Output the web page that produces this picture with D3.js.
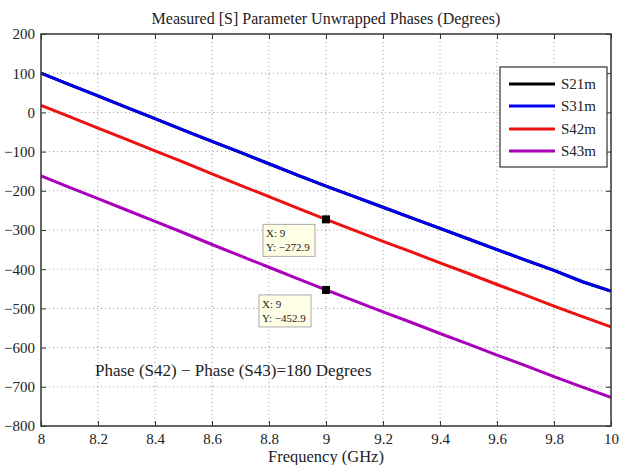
<!DOCTYPE html>
<html><head><meta charset="utf-8">
<script src="https://cdn.jsdelivr.net/npm/d3@7"></script>
<style>body{margin:0;background:#fff;} text{font-family:"Liberation Serif","Times New Roman",serif;fill:#222;}</style>
</head><body><svg id="c" width="623" height="465"></svg>
<script>
const freq = [8.0,8.1,8.2,8.3,8.4,8.5,8.6,8.7,8.8,8.9,9.0,9.1,9.2,9.3,9.4,9.5,9.6,9.7,9.8,9.9,10.0];
const s31 = [100,71,42,13,-16,-45,-74,-102,-131,-160,-188,-215,-242,-269,-296,-323,-350,-377,-403,-432,-456];
const s21 = s31.slice();
const s42 = [18,-11,-40,-69,-98,-127,-157,-186,-215,-244,-272.9,-301,-329,-356,-384,-411,-439,-466,-494,-521,-547];
const s43 = s42.map(v => v - 180);
const seriesNames = ["S21m","S31m","S42m","S43m"];
const seriesColors = ["#000000","#0000ee","#ee1111","#aa00bb"];
const seriesData = [s21,s31,s42,s43];
const xTicks = [8,8.2,8.4,8.6,8.8,9,9.2,9.4,9.6,9.8,10];
const yTicks = [200,100,0,-100,-200,-300,-400,-500,-600,-700,-800];
const tips = [{x:9,y:-272.9},{x:9,y:-452.9}];

const svg = d3.select("#c");
const L=41,R=611,T=34,B=426;
const x = d3.scaleLinear().domain([8,10]).range([L,R]);
const y = d3.scaleLinear().domain([-800,200]).range([B,T]);

const g = svg.append("g");
g.selectAll(".gx").data(xTicks.slice(1,-1)).join("line")
 .attr("x1",d=>x(d)).attr("x2",d=>x(d)).attr("y1",T).attr("y2",B)
 .attr("stroke","#999").attr("stroke-width",1).attr("stroke-dasharray","1,3");
g.selectAll(".gy").data(yTicks.slice(1,-1)).join("line")
 .attr("y1",d=>y(d)).attr("y2",d=>y(d)).attr("x1",L).attr("x2",R)
 .attr("stroke","#999").attr("stroke-width",1).attr("stroke-dasharray","1,3");

const line = d3.line().x((d,i)=>x(freq[i])).y(d=>y(d));
seriesData.forEach((s,k)=>{
  svg.append("path").datum(s).attr("d",line).attr("fill","none")
   .attr("stroke",seriesColors[k]).attr("stroke-width",3);
});

const ax = d3.axisBottom(x).tickValues(xTicks).tickSize(-5).tickPadding(7).tickFormat(d3.format("~g"));
const ay = d3.axisLeft(y).tickValues(yTicks).tickSize(-5).tickPadding(6).tickFormat(d=>d<0?"\u2212"+(-d):d);
const gx = svg.append("g").attr("transform",`translate(0,${B})`).call(ax);
const gy = svg.append("g").attr("transform",`translate(${L},0)`).call(ay);
svg.append("g").attr("transform",`translate(0,${T})`).call(d3.axisTop(x).tickValues(xTicks).tickSize(-5).tickFormat(""));
svg.append("g").attr("transform",`translate(${R},0)`).call(d3.axisRight(y).tickValues(yTicks).tickSize(-5).tickFormat(""));
svg.selectAll(".domain").attr("stroke","none");
svg.selectAll(".tick line").attr("stroke","#333");
[gx,gy].forEach(a=>a.selectAll("text").attr("font-size",15).attr("fill","#222").attr("font-family","Liberation Serif"));
svg.append("rect").attr("x",L).attr("y",T).attr("width",R-L).attr("height",B-T)
 .attr("fill","none").attr("stroke","#333").attr("stroke-width",1.5);

svg.append("text").attr("x",(L+R)/2).attr("y",24).attr("text-anchor","middle").attr("font-size",16)
 .text("Measured [S] Parameter Unwrapped Phases (Degrees)");
svg.append("text").attr("x",(L+R)/2).attr("y",462).attr("text-anchor","middle").attr("font-size",16.5)
 .text("Frequency (GHz)");
svg.append("text").attr("x",95).attr("y",376).attr("font-size",17)
 .text("Phase (S42) \u2212 Phase (S43)=180 Degrees");

const lg = svg.append("g");
lg.append("rect").attr("x",500).attr("y",67).attr("width",107).attr("height",100)
 .attr("fill","#fff").attr("stroke","#333").attr("stroke-width",1.2);
const ly = [84,106,129,151];
seriesNames.forEach((n,i)=>{
  lg.append("line").attr("x1",509).attr("x2",555).attr("y1",ly[i]).attr("y2",ly[i])
   .attr("stroke",seriesColors[i]).attr("stroke-width",3);
  lg.append("text").attr("x",561).attr("y",ly[i]+5).attr("font-size",15).text(n);
});

tips.forEach((t,i)=>{
  const px=x(t.x), py=y(t.y);
  const bx=263-(i*4), by=py+5;
  svg.append("rect").attr("x",bx).attr("y",by).attr("width",52).attr("height",32)
   .attr("fill","#ffffe6").attr("stroke","#aaa").attr("stroke-width",1);
  svg.append("text").attr("x",bx+3).attr("y",by+13).attr("font-size",11).text("X: "+t.x);
  svg.append("text").attr("x",bx+3).attr("y",by+27).attr("font-size",11).text("Y: \u2212"+(-t.y).toFixed(1));
  svg.append("rect").attr("x",px-4).attr("y",py-4).attr("width",8).attr("height",8).attr("fill","#000");
});
</script></body></html>
